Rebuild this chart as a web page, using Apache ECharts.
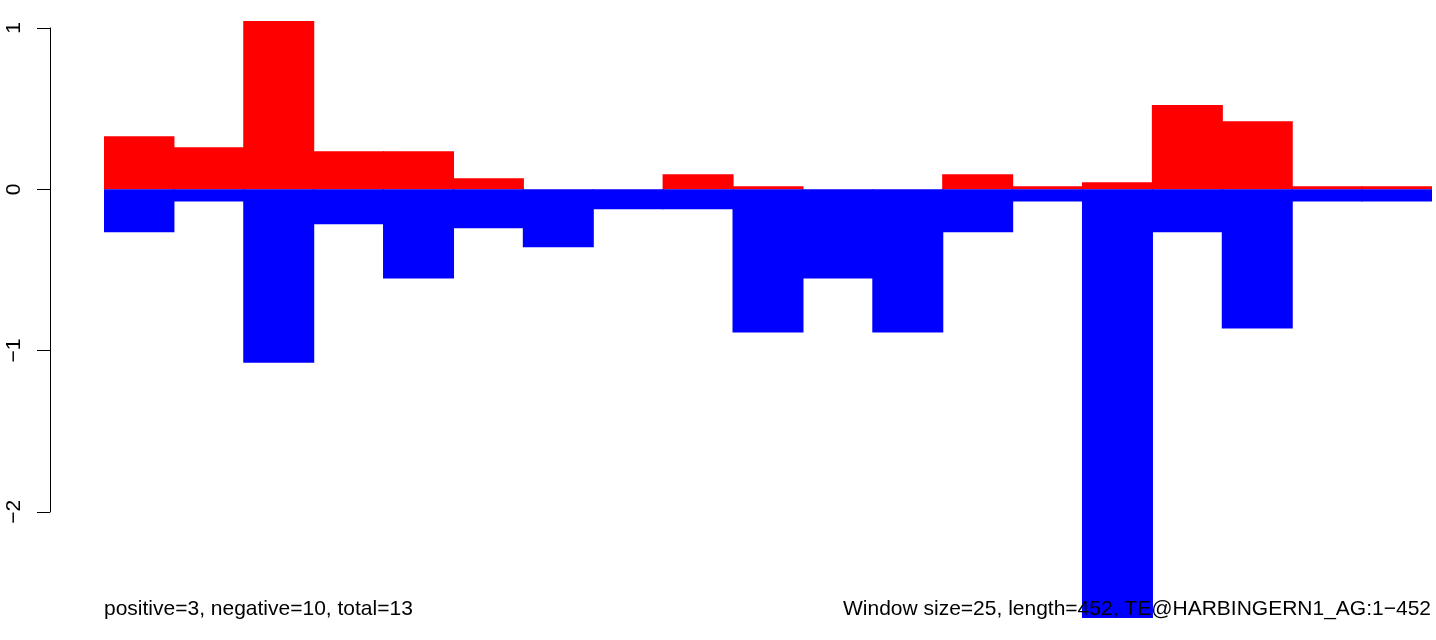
<!DOCTYPE html>
<html>
<head>
<meta charset="utf-8">
<script src="https://cdn.jsdelivr.net/npm/echarts@6/dist/echarts.min.js"></script>
<style>
html,body{margin:0;padding:0;background:#fff;}
#chart{width:1436px;height:640px;}
</style>
</head>
<body>
<div id="chart"></div>
<script>
// Windows (window size 25 along a length of 452)
const categories = ['1','2','3','4','5','6','7','8','9','10','11','12','13','14','15','16','17','18','19'];
// Positive strand scores (red)
const positiveValues = [0.329, 0.261, 1.043, 0.236, 0.236, 0.068, 0, 0, 0.093, 0.019, 0, 0, 0.093, 0.019, 0.043, 0.522, 0.422, 0.019, 0.019];
// Negative strand scores (blue)
const negativeValues = [-0.267, -0.075, -1.075, -0.217, -0.553, -0.242, -0.360, -0.124, -0.124, -0.888, -0.553, -0.888, -0.267, -0.075, -2.658, -0.267, -0.863, -0.075, -0.075];
// Y axis ticks
const yTicks = [-2, -1, 0, 1];
const leftNote = 'positive=3, negative=10, total=13';
const rightNote = 'Window size=25, length=452, TE@HARBINGERN1_AG:1\u2212452';

const FONT = '"Liberation Sans", Arial, Helvetica, sans-serif';
const chart = echarts.init(document.getElementById('chart'), null, {renderer: 'canvas'});

// pixel scale: 0 at y=189.3, 1 unit = 161.3px
const zeroY = 189.3, unit = 161.3, plotBottom = 618;
const mainMax = zeroY / unit;
const mainMin = -(plotBottom - zeroY) / unit;

chart.setOption({
  animation: false,
  backgroundColor: '#ffffff',
  title: [
    {text: leftNote, left: 104, top: 599, padding: 0,
     textStyle: {fontFamily: FONT, fontSize: 21, fontWeight: 'normal', color: '#000'}},
    {text: rightNote, right: 5, top: 599, padding: 0,
     textStyle: {fontFamily: FONT, fontSize: 21, fontWeight: 'normal', color: '#000'}}
  ],
  grid: [
    {left: 104, right: 4, top: 0, bottom: 640 - plotBottom, containLabel: false},
    {left: 50, width: 1, top: zeroY - unit * 1, bottom: 640 - (zeroY + unit * 2), containLabel: false}
  ],
  xAxis: [
    {type: 'category', gridIndex: 0, data: categories, show: false, boundaryGap: true},
    {type: 'value', gridIndex: 1, show: false, min: 0, max: 1}
  ],
  yAxis: [
    {type: 'value', gridIndex: 0, min: mainMin, max: mainMax, show: false},
    {type: 'value', gridIndex: 1, min: yTicks[0], max: yTicks[yTicks.length - 1], interval: 1,
     position: 'left',
     axisLine: {show: true, onZero: false, lineStyle: {color: '#000', width: 1}},
     axisTick: {show: true, length: 13, lineStyle: {color: '#000', width: 1}},
     splitLine: {show: false},
     axisLabel: {show: true, rotate: 90, margin: 25, color: '#000', fontFamily: FONT, fontSize: 21,
       formatter: v => (v < 0 ? '\u2212' + Math.abs(v) : String(v))}
    }
  ],
  series: [
    {type: 'bar', name: 'positive', xAxisIndex: 0, yAxisIndex: 0, data: positiveValues,
     barWidth: 71, barGap: '-100%',
     itemStyle: {color: '#ff0000'}, z: 2, silent: true},
    {type: 'bar', name: 'negative', xAxisIndex: 0, yAxisIndex: 0, data: negativeValues,
     barWidth: 71, barGap: '-100%',
     itemStyle: {color: '#0000ff'}, z: 3, silent: true}
  ]
});
</script>
</body>
</html>
